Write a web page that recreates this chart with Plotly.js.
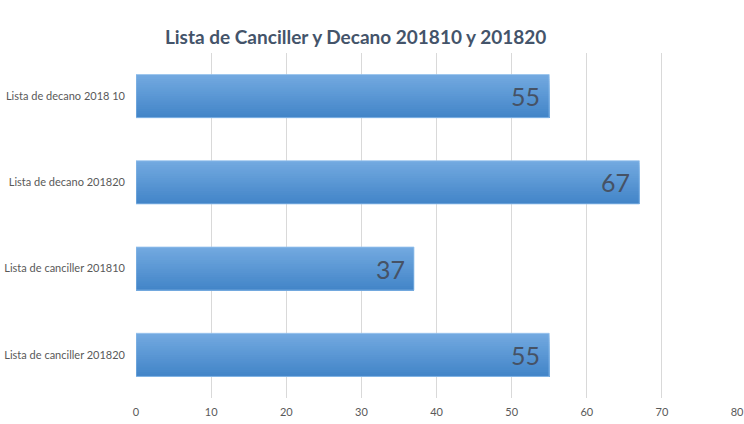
<!DOCTYPE html>
<html>
<head>
<meta charset="utf-8">
<script src="https://cdn.plot.ly/plotly-3.0.1.min.js"></script>
<style>html,body{margin:0;padding:0;background:#fff;}#chart{width:744px;height:424px;}</style>
</head>
<body>
<div id="chart"></div>
<script>
const categories = ["Lista de decano 2018 10", "Lista de decano 201820", "Lista de canciller 201810", "Lista de canciller 201820"];
const values = [55, 67, 37, 55];
const xTicks = [0, 10, 20, 30, 40, 50, 60, 70, 80];

// gradient simulated by overlapping horizontal stripes (top light -> bottom dark)
const topColor = [114, 169, 224];
const botColor = [67, 133, 200];
const nStripes = 20;
const barWidth = 0.5;
const traces = [];
for (let i = 0; i < nStripes; i++) {
  const t = i / (nStripes - 1);
  const c = topColor.map((v, k) => Math.round(v + (botColor[k] - v) * t));
  const step = barWidth / nStripes;
  traces.push({
    type: 'bar', orientation: 'h',
    x: values, y: categories,
    width: barWidth - i * step,
    offset: -barWidth / 2 + i * step,
    marker: {color: `rgb(${c[0]},${c[1]},${c[2]})`, line: {width: 0}},
    hoverinfo: 'skip', showlegend: false
  });
}
traces.push({
  type: 'bar', orientation: 'h',
  x: values, y: categories,
  width: barWidth,
  marker: {color: 'rgba(0,0,0,0)', line: {width: 1, color: 'rgba(150,195,238,0.8)'}},
  hoverinfo: 'skip', showlegend: false
});

const annotations = values.map((v, i) => ({
  x: v, y: categories[i], xref: 'x', yref: 'y',
  text: String(v), showarrow: false,
  xanchor: 'right', yanchor: 'middle', xshift: -7, yshift: 0,
  font: {family: 'Lato, sans-serif', size: 25, color: '#465265'}
}));

const layout = {
  width: 744, height: 424,
  margin: {l: 136, r: 7, t: 53, b: 26},
  paper_bgcolor: '#fff', plot_bgcolor: '#fff',
  barmode: 'overlay',
  annotations: annotations,
  title: {
    text: 'Lista de Canciller y Decano 201810 y 201820',
    font: {family: 'Lato, sans-serif', size: 19, color: '#44546A', weight: 'bold'},
    x: 0.478, xanchor: 'center', y: 0.913, yanchor: 'middle', xref: 'container', yref: 'container'
  },
  xaxis: {
    range: [0, 80], tickvals: xTicks, ticktext: xTicks.map(String),
    showgrid: true, gridcolor: '#D9D9D9', gridwidth: 1,
    zeroline: false, showline: false, ticks: '',
    ticklabelstandoff: 6,
    tickfont: {family: 'Lato, sans-serif', size: 11, color: '#595959'},
    fixedrange: true
  },
  yaxis: {
    type: 'category', categoryorder: 'array', categoryarray: categories,
    autorange: 'reversed',
    showgrid: false, zeroline: false, showline: false, ticks: '',
    ticklabelstandoff: 10,
    tickfont: {family: 'Lato, sans-serif', size: 11, color: '#595959'},
    fixedrange: true
  },
  font: {family: 'Lato, sans-serif'}
};
Plotly.newPlot('chart', traces, layout, {staticPlot: true, displayModeBar: false});
</script>
</body>
</html>
